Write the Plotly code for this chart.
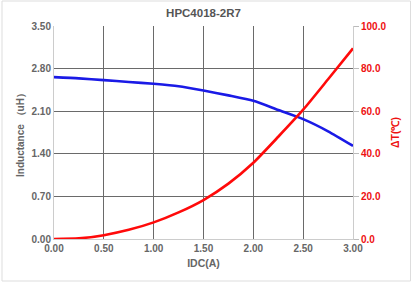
import plotly.graph_objects as go

idc = [0.0, 0.25, 0.5, 0.75, 1.0, 1.25, 1.5, 1.75, 2.0, 2.25, 2.5, 2.75, 3.0]
inductance = [2.66, 2.64, 2.61, 2.58, 2.55, 2.51, 2.44, 2.36, 2.27, 2.12, 1.97, 1.77, 1.53]
delta_t = [0.0, 0.3, 1.8, 4.3, 7.8, 12.5, 18.3, 26.0, 35.8, 48.0, 60.7, 75.0, 89.5]

title = "HPC4018-2R7"
x_title = "IDC(A)"
y_title = "Inductance （uH）"
y2_title = "ΔT(℃)"

font = "Liberation Sans, Arial, sans-serif"
grey = "#666666"
red = "#ee1111"

fig = go.Figure()
fig.add_trace(go.Scatter(x=idc, y=inductance, mode="lines", line=dict(color="#1a1ae6", width=2.6, shape="spline", smoothing=0.6), yaxis="y", showlegend=False))
fig.add_trace(go.Scatter(x=idc, y=delta_t, mode="lines", line=dict(color="#ff0a0a", width=2.6, shape="spline", smoothing=0.6), yaxis="y2", showlegend=False))

fig.update_layout(
    width=413, height=293,
    margin=dict(l=54, r=60, t=26, b=54, autoexpand=False),
    paper_bgcolor="white", plot_bgcolor="white",
    font=dict(family=font, size=10, color=grey),
    title=dict(text="<b>" + title + "</b>", x=0.5, xref="paper", y=1 - 13 / 293, yref="container", yanchor="middle",
               font=dict(family=font, size=11.5, color="#555555")),
    xaxis=dict(range=[0, 3], dtick=0.5, tick0=0, tickformat=".2f", showgrid=True, gridcolor="#6a6a6a", gridwidth=1,
               showline=True, linecolor="#cccccc", linewidth=1, zeroline=False, ticks="", automargin=False,
               tickfont=dict(family=font, size=10, color=grey, weight="bold"),
               title=dict(text="<b>" + x_title + "</b>", font=dict(family=font, size=10.5, color=grey), standoff=6)),
    yaxis=dict(range=[0, 3.5], dtick=0.7, tick0=0, tickformat=".2f", showgrid=True, gridcolor="#6a6a6a", gridwidth=1,
               showline=True, linecolor="#cccccc", linewidth=1, zeroline=False, ticks="", automargin=False,
               tickfont=dict(family=font, size=10, color=grey, weight="bold"),
               title=dict(text="<b>" + y_title + "</b>", font=dict(family=font, size=10, color=grey), standoff=5)),
    yaxis2=dict(range=[0, 100], dtick=20, tick0=0, tickformat=".1f", overlaying="y", side="right", showgrid=False,
                showline=True, linecolor="#cccccc", linewidth=1, zeroline=False, ticks="outside", ticklen=5, tickcolor="#bbbbbb",
                automargin=False,
                tickfont=dict(family=font, size=10, color=red, weight="bold"),
                title=dict(text="<b>" + y2_title + "</b>", font=dict(family=font, size=10.5, color=red), standoff=6)),
    shapes=[dict(type="rect", xref="paper", yref="paper", x0=(2 - 54) / 299, x1=(410.5 - 54) / 299,
                 y0=(239 - 281) / 213, y1=(239 - 1) / 213, line=dict(color="#dddddd", width=1), fillcolor="rgba(0,0,0,0)", layer="below")],
)

fig.write_html("out.html", config={"displayModeBar": False},
               post_script="document.body.style.margin='0';document.body.style.overflow='hidden';")
